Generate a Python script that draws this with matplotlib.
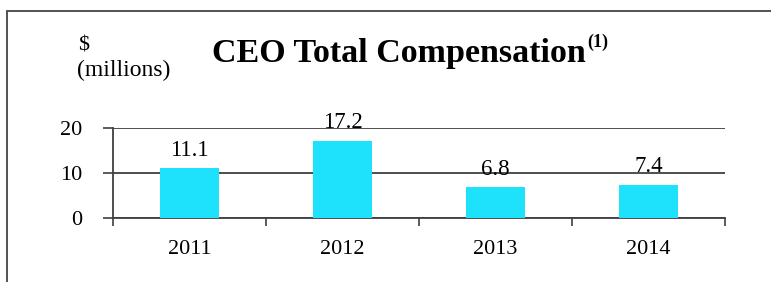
import matplotlib
matplotlib.use("Agg")
import matplotlib.pyplot as plt
from matplotlib.patches import Rectangle

years = ["2011", "2012", "2013", "2014"]
values = [11.1, 17.2, 6.8, 7.4]
yticks = [0, 10, 20]

plt.rcParams['font.family'] = ['Liberation Serif', 'DejaVu Serif']

W, H = 771, 282
fig = plt.figure(figsize=(W/100, H/100), dpi=100)
fig.patch.set_facecolor('white')

# outer frame
fig.add_artist(Rectangle((7/W, -0.1), 1.2, 1 - 11/H + 0.1, transform=fig.transFigure,
                         fill=False, edgecolor='#444444', linewidth=1.3))

ax = fig.add_axes([113/W, 1-218/H, 612/W, 90/H])
x = range(len(years))
ax.bar(x, values, width=0.39, color='#1ee2fb', zorder=3)
ax.set_xlim(-0.5, len(years)-0.5)
ax.set_ylim(0, 20)
ax.set_yticks(yticks)
ax.set_yticklabels([str(t) for t in yticks], fontsize=16)
ax.set_xticks(list(x))
ax.set_xticklabels(years, fontsize=16)
ax.tick_params(axis='x', length=0, pad=16)
ax.set_xticks([i - 0.5 for i in range(len(years)+1)], minor=True)
ax.tick_params(axis='x', which='minor', length=6, direction='out', color='#404040', width=1.2)
ax.tick_params(axis='y', length=7, direction='out', color='#404040', width=1.2, pad=15)
for s in ['top', 'right']:
    ax.spines[s].set_visible(False)
for s in ['left', 'bottom']:
    ax.spines[s].set_color('#404040')
    ax.spines[s].set_linewidth(1.3)
ax.grid(axis='y', color='#404040', linewidth=1.3, zorder=1)
ax.set_axisbelow(True)

for i, v in enumerate(values):
    ax.text(i, v + 1.6, f"{v:.1f}", ha='center', va='bottom', fontsize=16.5)

fig.text(78/W, 1-46/H, "$", fontsize=16, ha='left', va='center')
fig.text(77/W, 1-70/H, "(millions)", fontsize=17, ha='left', va='center')
t = fig.text(212/W, 1-54/H, "CEO Total Compensation", fontsize=24.5,
             fontweight='bold', ha='left', va='center')
fig.canvas.draw()
bb = t.get_window_extent()
fig.text((bb.x1 + 1)/W, 1-42/H, "(1)", fontsize=13, fontweight='bold', ha='left', va='center')

fig.savefig("out.png", dpi=100)
